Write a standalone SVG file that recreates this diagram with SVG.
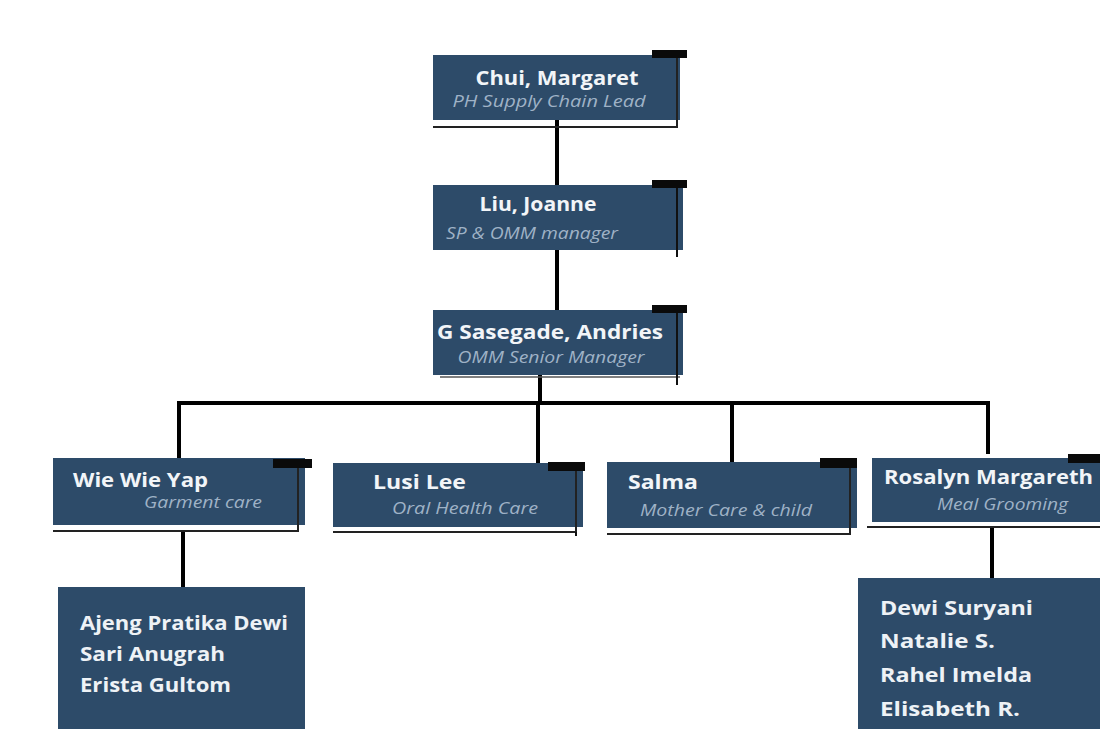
<svg xmlns="http://www.w3.org/2000/svg" width="1100" height="729" viewBox="0 0 1100 729">
<style>
.box{fill:#2d4b69}
.tab{fill:#0a0a0a}
.edge{stroke:#111;stroke-width:2;fill:none}
.under{stroke:#222;stroke-width:2;fill:none}
.t{font-family:"Open Sans","Liberation Sans",sans-serif;font-weight:700;font-size:19px;fill:#f2f5f8}
.s{font-family:"Open Sans","Liberation Sans",sans-serif;font-style:italic;font-size:16px;fill:#9fb2c6}
.l{font-family:"Open Sans","Liberation Sans",sans-serif;font-weight:700;font-size:20px;fill:#eef2f6}
.c{stroke:#000;stroke-width:4;fill:none}
</style>
<rect width="1100" height="729" fill="#ffffff"/>
<g id="connectors">
<line class="c" x1="557" y1="120" x2="557" y2="186"/>
<line class="c" x1="557" y1="250" x2="557" y2="311"/>
<line class="c" x1="540" y1="375" x2="540" y2="403"/>
<polyline class="c" points="179,458 179,403 988,403 988,454"/>
<line class="c" x1="538" y1="403" x2="538" y2="463"/>
<line class="c" x1="732" y1="403" x2="732" y2="462"/>
<line class="c" x1="183" y1="531" x2="183" y2="588"/>
<line class="c" x1="992" y1="527" x2="992" y2="579"/>
</g>
<g id="chui">
<rect class="box" x="433" y="55" width="247" height="65"/>
<polyline class="under" points="433,127 677,127 677,56"/>
<rect class="tab" x="652" y="50" width="35" height="8"/>
<text class="t" x="557" y="85" text-anchor="middle" textLength="163" lengthAdjust="spacingAndGlyphs">Chui, Margaret</text>
<text class="s" x="549" y="107" text-anchor="middle" textLength="193" lengthAdjust="spacingAndGlyphs">PH Supply Chain Lead</text>
</g>
<g id="liu">
<rect class="box" x="433" y="185" width="250" height="65"/>
<line class="edge" x1="677" y1="186" x2="677" y2="257"/>
<rect class="tab" x="652" y="180" width="35" height="8"/>
<text class="t" x="538" y="211" text-anchor="middle" textLength="117" lengthAdjust="spacingAndGlyphs">Liu, Joanne</text>
<text class="s" x="532" y="239" text-anchor="middle" textLength="172" lengthAdjust="spacingAndGlyphs">SP &amp; OMM manager</text>
</g>
<g id="sasegade">
<rect class="box" x="433" y="310" width="250" height="65"/>
<line x1="440" y1="377" x2="680" y2="377" stroke="#555" stroke-width="1.5"/>
<line class="edge" x1="677" y1="311" x2="677" y2="385"/>
<rect class="tab" x="652" y="305" width="35" height="8"/>
<text class="t" x="550" y="339" text-anchor="middle" textLength="226" lengthAdjust="spacingAndGlyphs">G Sasegade, Andries</text>
<text class="s" x="551" y="363" text-anchor="middle" textLength="187" lengthAdjust="spacingAndGlyphs">OMM Senior Manager</text>
</g>
<g id="wie">
<rect class="box" x="53" y="458" width="252" height="67"/>
<polyline class="under" points="53,531 298,531 298,460"/>
<rect class="tab" x="273" y="459" width="39" height="9"/>
<text class="t" x="73" y="487" textLength="135" lengthAdjust="spacingAndGlyphs">Wie Wie Yap</text>
<text class="s" x="144" y="508" textLength="118" lengthAdjust="spacingAndGlyphs">Garment care</text>
</g>
<g id="lusi">
<rect class="box" x="333" y="463" width="250" height="64"/>
<polyline class="under" points="333,532 576,532 576,465"/>
<line x1="576" y1="532" x2="576" y2="536" stroke="#111" stroke-width="2"/>
<rect class="tab" x="548" y="462" width="37" height="9"/>
<text class="t" x="373" y="489" textLength="93" lengthAdjust="spacingAndGlyphs">Lusi  Lee</text>
<text class="s" x="392" y="514" textLength="146" lengthAdjust="spacingAndGlyphs">Oral Health Care</text>
</g>
<g id="salma">
<rect class="box" x="607" y="462" width="250" height="66"/>
<polyline class="under" points="607,534 850,534 850,462"/>
<rect class="tab" x="820" y="458" width="37" height="10"/>
<text class="t" x="628" y="489" textLength="70" lengthAdjust="spacingAndGlyphs">Salma</text>
<text class="s" x="640" y="516" textLength="172" lengthAdjust="spacingAndGlyphs">Mother Care &amp; child</text>
</g>
<g id="rosalyn">
<rect class="box" x="872" y="458" width="228" height="64"/>
<line class="under" x1="867" y1="527" x2="1100" y2="527"/>
<rect class="tab" x="1068" y="454" width="32" height="9"/>
<text class="t" x="884" y="484" textLength="209" lengthAdjust="spacingAndGlyphs">Rosalyn Margareth</text>
<text class="s" x="937" y="510" textLength="131" lengthAdjust="spacingAndGlyphs">Meal Grooming</text>
</g>
<g id="wie-team">
<rect class="box" x="58" y="587" width="247" height="142"/>
<text class="l" x="80" y="630" textLength="208" lengthAdjust="spacingAndGlyphs">Ajeng Pratika Dewi</text>
<text class="l" x="80" y="661" textLength="145" lengthAdjust="spacingAndGlyphs">Sari Anugrah</text>
<text class="l" x="80" y="692" textLength="151" lengthAdjust="spacingAndGlyphs">Erista Gultom</text>
</g>
<g id="rosalyn-team">
<rect class="box" x="858" y="578" width="242" height="151"/>
<text class="l" x="880" y="615" textLength="153" lengthAdjust="spacingAndGlyphs">Dewi Suryani</text>
<text class="l" x="880" y="648" textLength="115" lengthAdjust="spacingAndGlyphs">Natalie S.</text>
<text class="l" x="880" y="682" textLength="152" lengthAdjust="spacingAndGlyphs">Rahel Imelda</text>
<text class="l" x="880" y="716" textLength="140" lengthAdjust="spacingAndGlyphs">Elisabeth R.</text>
</g>
</svg>
